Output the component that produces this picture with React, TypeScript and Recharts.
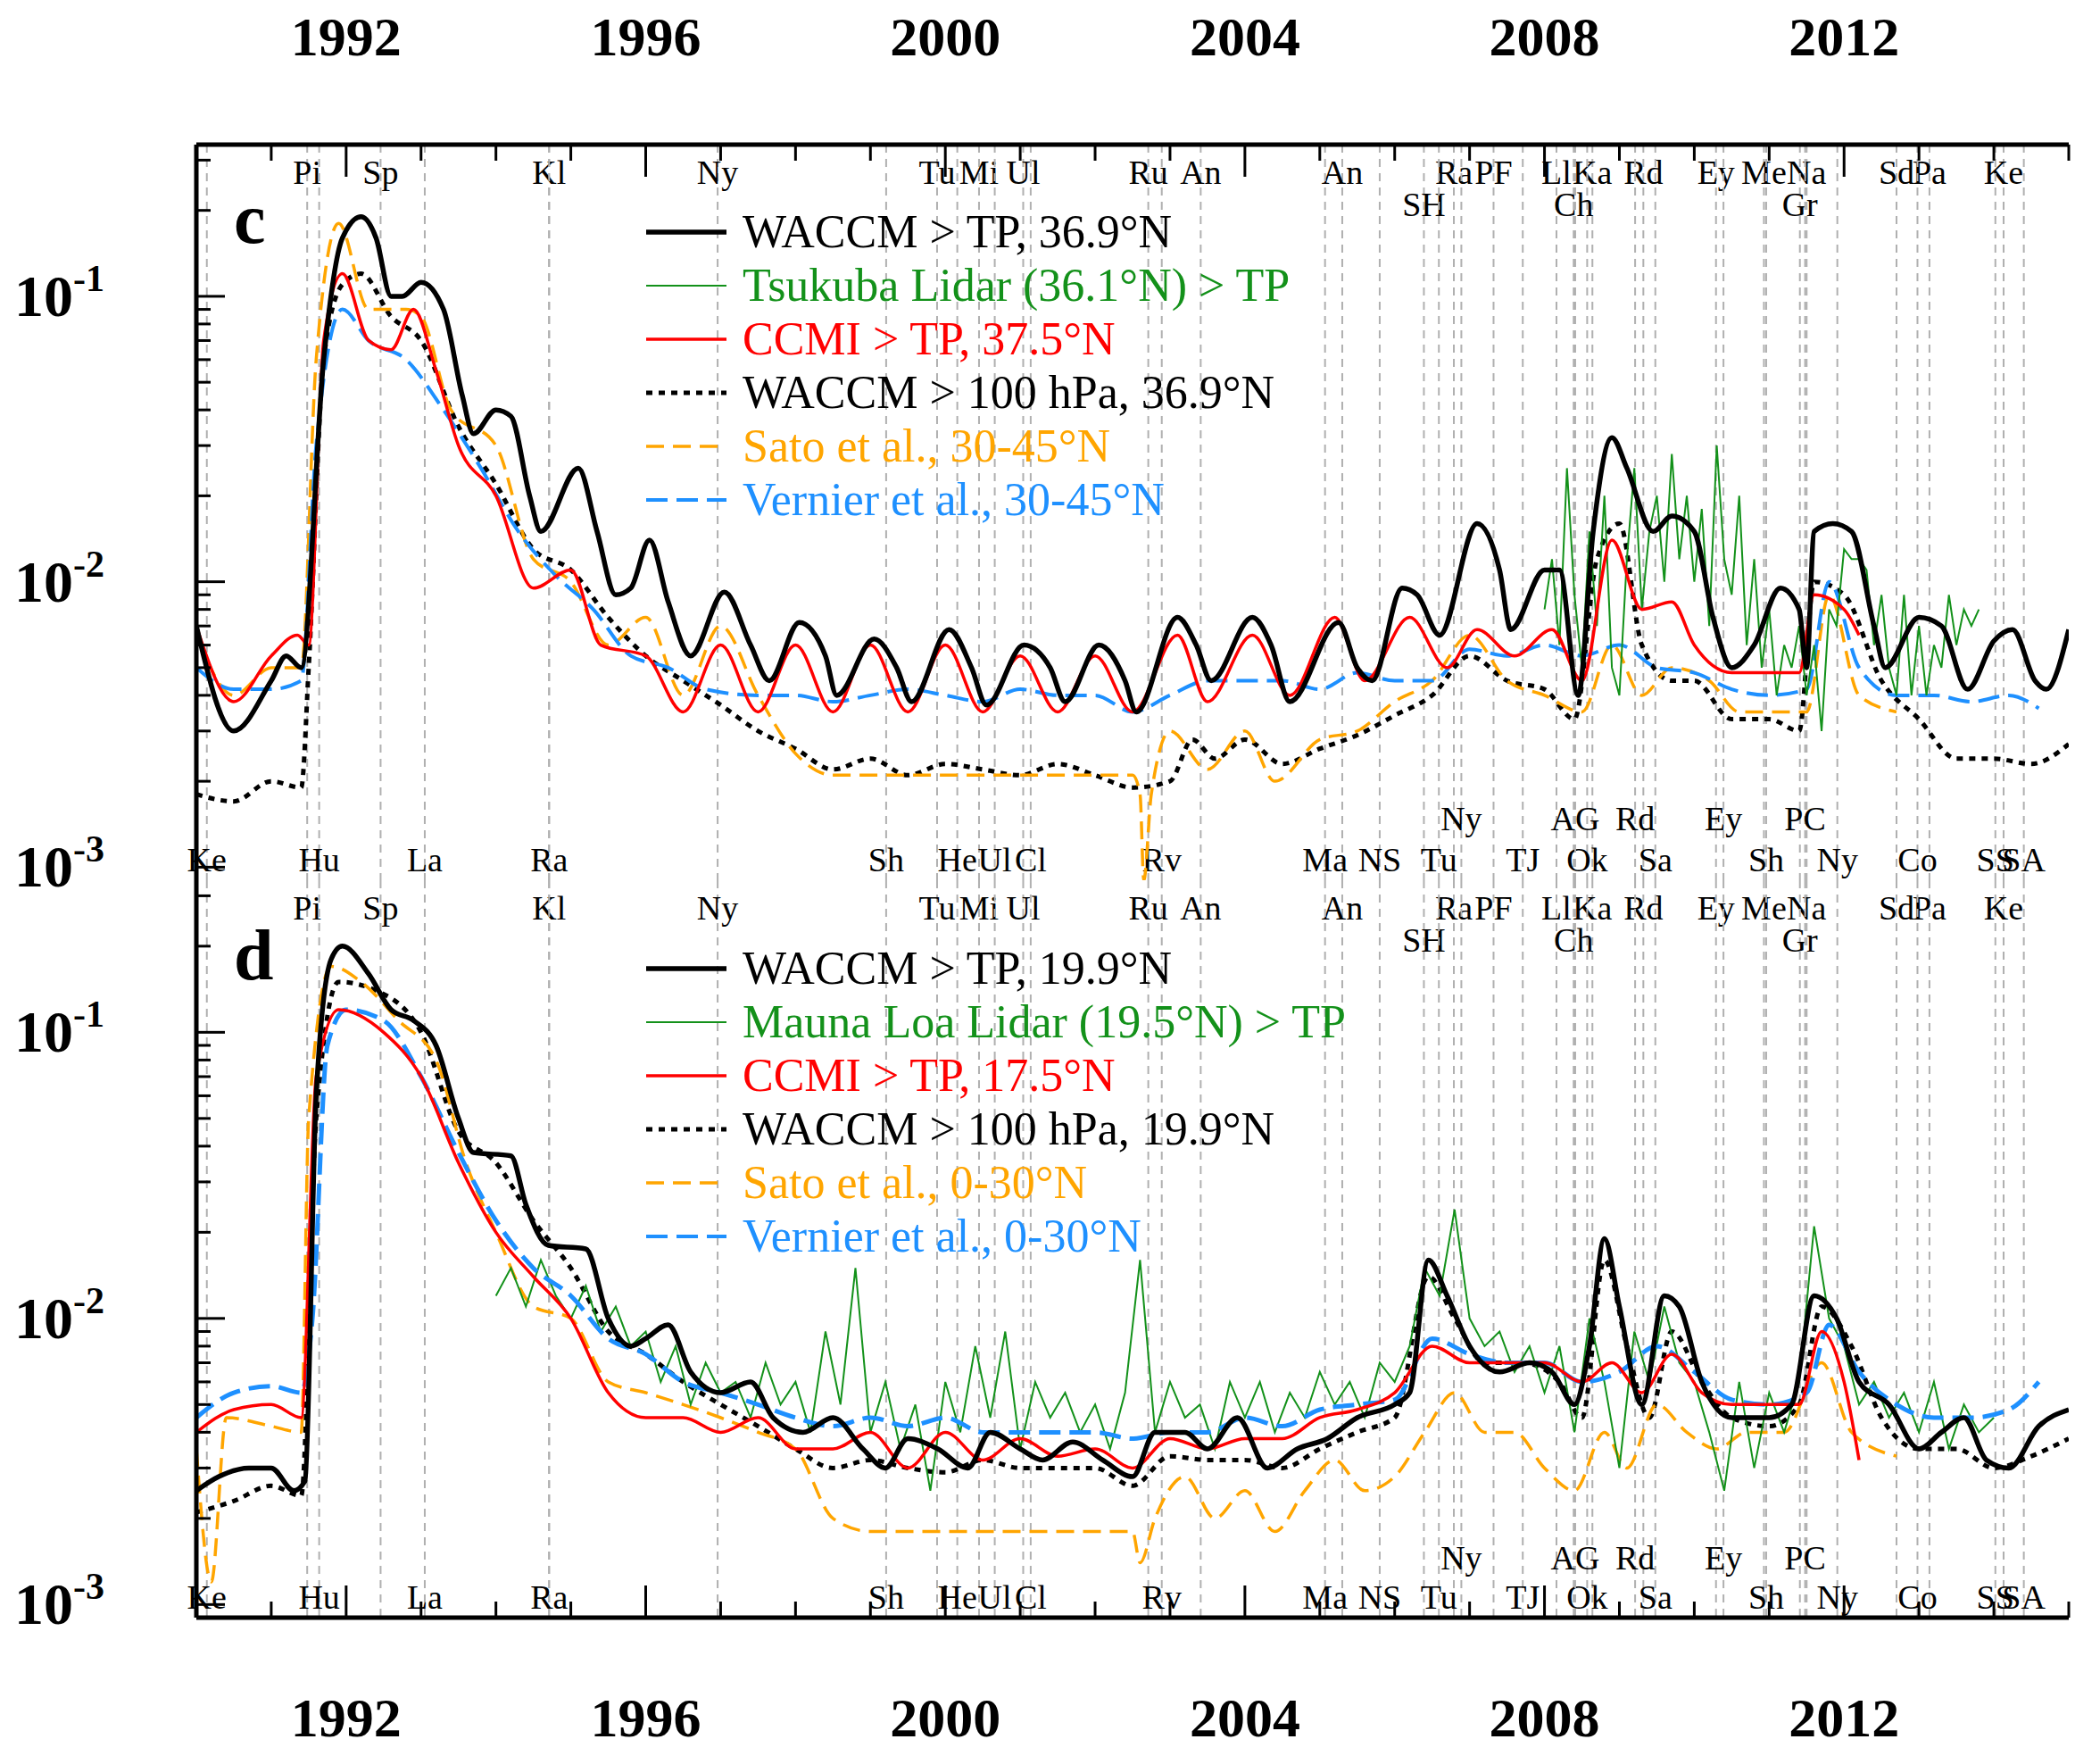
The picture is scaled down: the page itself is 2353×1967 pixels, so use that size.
import React from 'react'
import { LineChart, Line, XAxis, YAxis, ReferenceLine } from 'recharts'

// ---- data: [year, value] ----
const waccmTpC = [[1990,0.007],[1990.5,0.003],[1991,0.0045],[1991.2,0.0055],[1991.4,0.005],[1991.7,0.06],[1991.95,0.16],[1992.2,0.19],[1992.4,0.16],[1992.6,0.1],[1992.75,0.1],[1993,0.112],[1993.3,0.09],[1993.55,0.045],[1993.7,0.033],[1994,0.04],[1994.2,0.038],[1994.45,0.02],[1994.6,0.015],[1995.1,0.025],[1995.35,0.015],[1995.6,0.009],[1995.8,0.0095],[1996.05,0.014],[1996.3,0.0085],[1996.6,0.0055],[1997.05,0.0092],[1997.4,0.006],[1997.65,0.0045],[1998.05,0.0072],[1998.4,0.0055],[1998.55,0.004],[1999.05,0.0063],[1999.35,0.005],[1999.55,0.0038],[2000.05,0.0068],[2000.35,0.005],[2000.55,0.0037],[2001.05,0.006],[2001.4,0.005],[2001.6,0.0038],[2002.05,0.006],[2002.4,0.0045],[2002.55,0.0035],[2003.1,0.0075],[2003.35,0.006],[2003.55,0.0045],[2004.1,0.0075],[2004.35,0.006],[2004.6,0.0038],[2005.25,0.0072],[2005.5,0.005],[2005.7,0.0045],[2006.1,0.0095],[2006.3,0.009],[2006.6,0.0065],[2007.1,0.016],[2007.4,0.011],[2007.55,0.0068],[2008,0.011],[2008.2,0.011],[2008.45,0.004],[2008.65,0.015],[2008.9,0.032],[2009.1,0.025],[2009.45,0.015],[2009.7,0.017],[2010,0.015],[2010.25,0.0075],[2010.5,0.005],[2010.8,0.006],[2011.15,0.0095],[2011.4,0.008],[2011.5,0.005],[2011.6,0.015],[2011.85,0.016],[2012.1,0.015],[2012.4,0.007],[2012.55,0.005],[2013,0.0075],[2013.3,0.007],[2013.65,0.0042],[2014,0.0062],[2014.25,0.0068],[2014.55,0.0045],[2014.7,0.0042],[2015,0.0068]]
const waccm100C = [[1990,0.0018],[1990.5,0.0017],[1991,0.002],[1991.4,0.0019],[1991.5,0.005],[1991.7,0.06],[1991.95,0.11],[1992.2,0.12],[1992.6,0.085],[1993,0.07],[1993.5,0.035],[1994,0.022],[1994.5,0.013],[1995,0.011],[1995.5,0.0075],[1996,0.0055],[1996.5,0.0045],[1997,0.0037],[1997.5,0.003],[1998,0.0026],[1998.5,0.0022],[1999,0.0024],[1999.5,0.0021],[2000,0.0023],[2000.5,0.0022],[2001,0.0021],[2001.5,0.0023],[2002,0.0021],[2002.5,0.0019],[2003,0.002],[2003.3,0.0028],[2003.6,0.0024],[2004,0.0028],[2004.5,0.0023],[2005,0.0026],[2005.5,0.0029],[2006,0.0034],[2006.5,0.004],[2007,0.0055],[2007.5,0.0045],[2008,0.0042],[2008.4,0.0033],[2008.7,0.012],[2009,0.016],[2009.3,0.006],[2009.7,0.0045],[2010,0.0045],[2010.5,0.0033],[2011,0.0033],[2011.4,0.003],[2011.6,0.01],[2012,0.009],[2012.5,0.0045],[2013,0.0033],[2013.5,0.0024],[2014,0.0024],[2014.5,0.0023],[2015,0.0027]]
const ccmiC = [[1990,0.007],[1990.5,0.0038],[1991,0.0055],[1991.35,0.0065],[1991.5,0.006],[1991.7,0.07],[1991.95,0.12],[1992.3,0.07],[1992.6,0.065],[1992.9,0.09],[1993.2,0.055],[1993.5,0.03],[1994,0.02],[1994.5,0.0095],[1995,0.011],[1995.4,0.006],[1996,0.0055],[1996.5,0.0035],[1997,0.006],[1997.5,0.0035],[1998,0.006],[1998.5,0.0035],[1999,0.006],[1999.5,0.0035],[2000,0.006],[2000.5,0.0035],[2001,0.0055],[2001.5,0.0035],[2002,0.0055],[2002.5,0.0035],[2003.1,0.0065],[2003.5,0.0038],[2004.1,0.0065],[2004.6,0.004],[2005.2,0.0075],[2005.6,0.0045],[2006.2,0.0075],[2006.7,0.005],[2007.1,0.0068],[2007.6,0.0055],[2008.1,0.0068],[2008.5,0.0045],[2008.9,0.014],[2009.3,0.008],[2009.7,0.0085],[2010,0.006],[2010.5,0.0048],[2011,0.0048],[2011.4,0.0048],[2011.6,0.009],[2012,0.008],[2012.2,0.0065]]
const satoC = [[1990,0.0065],[1990.5,0.004],[1991,0.005],[1991.4,0.005],[1991.6,0.06],[1991.9,0.18],[1992.3,0.09],[1992.8,0.09],[1993,0.085],[1993.4,0.04],[1994,0.03],[1994.5,0.012],[1995,0.01],[1995.5,0.006],[1996,0.0075],[1996.5,0.004],[1997,0.007],[1997.5,0.004],[1998,0.0025],[1998.5,0.0021],[1999,0.0021],[2000,0.0021],[2001,0.0021],[2002,0.0021],[2002.5,0.0021],[2002.6,0.0018],[2002.65,0.0009],[2002.75,0.0018],[2003,0.003],[2003.5,0.0022],[2004,0.003],[2004.4,0.002],[2005,0.0028],[2005.5,0.003],[2006,0.0038],[2006.5,0.0045],[2007,0.0065],[2007.5,0.0045],[2008,0.004],[2008.5,0.0035],[2008.9,0.006],[2009.3,0.004],[2009.7,0.005],[2010.2,0.0045],[2010.6,0.0035],[2011,0.0035],[2011.5,0.0035],[2011.8,0.009],[2012.2,0.004],[2012.7,0.0035]]
const vernierC = [[1990,0.005],[1990.5,0.0042],[1991,0.0042],[1991.4,0.0045],[1991.6,0.03],[1991.95,0.09],[1992.3,0.07],[1992.8,0.06],[1993.3,0.04],[1993.8,0.025],[1994.3,0.015],[1994.8,0.0105],[1995.3,0.008],[1995.8,0.0055],[1996.3,0.005],[1996.8,0.0042],[1997.5,0.004],[1998,0.004],[1998.5,0.0038],[1999,0.004],[1999.5,0.0042],[2000,0.004],[2000.5,0.0038],[2001,0.0042],[2001.5,0.004],[2002,0.004],[2002.5,0.0035],[2003,0.004],[2003.5,0.0045],[2004,0.0045],[2004.5,0.0045],[2005,0.0042],[2005.5,0.0048],[2006,0.0045],[2006.5,0.0045],[2007,0.0058],[2007.5,0.0055],[2008,0.006],[2008.5,0.0055],[2009,0.006],[2009.5,0.005],[2010,0.0048],[2010.5,0.0042],[2011,0.004],[2011.5,0.0042],[2011.8,0.01],[2012.2,0.005],[2012.7,0.004],[2013.2,0.004],[2013.7,0.0038],[2014.2,0.004],[2014.6,0.0036]]
const tsukubaStart = 2008
const tsukubaValues = [0.008,0.012,0.006,0.025,0.009,0.005,0.015,0.007,0.02,0.005,0.004,0.012,0.025,0.008,0.015,0.02,0.01,0.028,0.012,0.02,0.01,0.018,0.007,0.03,0.012,0.009,0.02,0.006,0.012,0.005,0.008,0.004,0.006,0.005,0.007,0.004,0.006,0.003,0.008,0.007,0.013,0.012,0.012,0.011,0.006,0.009,0.005,0.004,0.009,0.004,0.007,0.004,0.006,0.005,0.009,0.006,0.008,0.007,0.008]

const waccmTpD = [[1990,0.0025],[1990.3,0.0028],[1990.7,0.003],[1991,0.003],[1991.3,0.0025],[1991.45,0.0027],[1991.6,0.06],[1991.8,0.18],[1991.95,0.2],[1992.3,0.16],[1992.6,0.12],[1992.9,0.11],[1993.2,0.09],[1993.5,0.05],[1993.7,0.038],[1994.2,0.037],[1994.4,0.025],[1994.7,0.018],[1995.2,0.0175],[1995.5,0.01],[1995.8,0.008],[1996,0.0085],[1996.3,0.0095],[1996.6,0.0065],[1997,0.0055],[1997.4,0.006],[1997.7,0.0045],[1998.1,0.004],[1998.5,0.0045],[1998.9,0.0035],[1999.2,0.003],[1999.5,0.0038],[1999.9,0.0035],[2000.3,0.003],[2000.6,0.004],[2001,0.0035],[2001.3,0.0032],[2001.7,0.0037],[2002.1,0.0032],[2002.5,0.0028],[2002.8,0.004],[2003.2,0.004],[2003.5,0.0035],[2003.9,0.0045],[2004.3,0.003],[2004.7,0.0035],[2005.1,0.0038],[2005.5,0.0045],[2006,0.005],[2006.2,0.0055],[2006.45,0.016],[2006.7,0.012],[2007,0.008],[2007.4,0.0065],[2007.8,0.007],[2008.1,0.0065],[2008.4,0.005],[2008.6,0.008],[2008.8,0.019],[2009,0.011],[2009.3,0.005],[2009.6,0.012],[2009.8,0.011],[2010.1,0.006],[2010.5,0.0045],[2011,0.0045],[2011.3,0.005],[2011.6,0.012],[2011.9,0.01],[2012.2,0.006],[2012.6,0.005],[2013,0.0035],[2013.3,0.004],[2013.6,0.0045],[2013.9,0.0032],[2014.2,0.003],[2014.6,0.0042],[2015,0.0048]]
const waccm100D = [[1990,0.0021],[1990.5,0.0023],[1991,0.0026],[1991.4,0.0024],[1991.6,0.05],[1991.9,0.15],[1992.4,0.14],[1993,0.1],[1993.5,0.045],[1994,0.035],[1994.5,0.022],[1995,0.015],[1995.5,0.009],[1996,0.0075],[1996.5,0.006],[1997,0.005],[1997.5,0.0042],[1998,0.0035],[1998.5,0.003],[1999,0.0032],[1999.5,0.003],[2000,0.0029],[2000.5,0.0032],[2001,0.003],[2001.5,0.003],[2002,0.003],[2002.5,0.0026],[2003,0.0033],[2003.5,0.0032],[2004,0.0032],[2004.5,0.003],[2005,0.0035],[2005.5,0.004],[2006,0.0045],[2006.45,0.014],[2006.8,0.01],[2007.2,0.007],[2007.7,0.007],[2008.2,0.006],[2008.5,0.0045],[2008.8,0.016],[2009.1,0.008],[2009.4,0.0045],[2009.7,0.009],[2010.1,0.006],[2010.5,0.0045],[2011,0.0042],[2011.4,0.005],[2011.7,0.011],[2012.1,0.008],[2012.5,0.0045],[2013,0.0035],[2013.5,0.0035],[2014,0.003],[2014.5,0.0033],[2015,0.0038]]
const ccmiD = [[1990,0.004],[1990.5,0.0048],[1991,0.005],[1991.4,0.0045],[1991.6,0.07],[1991.9,0.12],[1992.5,0.1],[1993,0.07],[1993.5,0.035],[1994,0.02],[1994.5,0.014],[1995,0.01],[1995.5,0.0055],[1996,0.0045],[1996.5,0.0045],[1997,0.004],[1997.5,0.0045],[1998,0.0035],[1998.5,0.0035],[1999,0.004],[1999.5,0.003],[2000,0.004],[2000.5,0.0032],[2001,0.0038],[2001.5,0.0033],[2002,0.0035],[2002.5,0.003],[2003,0.0038],[2003.5,0.0035],[2004,0.0038],[2004.5,0.0038],[2005,0.0045],[2005.5,0.0048],[2006,0.0055],[2006.5,0.008],[2007,0.007],[2007.5,0.007],[2008,0.007],[2008.5,0.006],[2008.9,0.007],[2009.3,0.0055],[2009.7,0.0075],[2010.1,0.0055],[2010.5,0.005],[2011,0.005],[2011.4,0.005],[2011.7,0.009],[2012,0.006],[2012.2,0.0032]]
const satoD = [[1990,0.0035],[1990.2,0.0012],[1990.4,0.0045],[1991,0.0042],[1991.4,0.004],[1991.5,0.05],[1991.8,0.17],[1992.2,0.15],[1992.7,0.11],[1993.2,0.08],[1993.6,0.035],[1994,0.02],[1994.5,0.011],[1995,0.01],[1995.5,0.006],[1996,0.0055],[1996.5,0.005],[1997,0.0045],[1997.5,0.004],[1998,0.0035],[1998.5,0.002],[1999,0.0018],[2002.5,0.0018],[2002.6,0.0014],[2002.8,0.002],[2003.2,0.0028],[2003.6,0.002],[2004,0.0025],[2004.4,0.0018],[2004.8,0.0025],[2005.2,0.0032],[2005.6,0.0025],[2006,0.0028],[2006.4,0.004],[2006.8,0.0055],[2007.2,0.004],[2007.6,0.004],[2008,0.003],[2008.4,0.0025],[2008.8,0.004],[2009.1,0.003],[2009.5,0.005],[2009.9,0.004],[2010.3,0.0035],[2010.7,0.004],[2011.2,0.004],[2011.7,0.007],[2012.1,0.004],[2012.7,0.0033]]
const vernierD = [[1990,0.0045],[1990.5,0.0055],[1991,0.0058],[1991.4,0.0055],[1991.55,0.01],[1991.75,0.09],[1992,0.12],[1992.5,0.11],[1993,0.07],[1993.5,0.038],[1994,0.022],[1994.5,0.015],[1995,0.012],[1995.5,0.0085],[1996,0.0075],[1996.5,0.006],[1997,0.0055],[1997.5,0.005],[1998,0.0045],[1998.5,0.0042],[1999,0.0045],[1999.5,0.0042],[2000,0.0045],[2000.5,0.004],[2001,0.004],[2001.5,0.004],[2002,0.004],[2002.5,0.0038],[2003,0.004],[2003.5,0.004],[2004,0.0045],[2004.5,0.0042],[2005,0.0048],[2005.5,0.005],[2006,0.0052],[2006.5,0.0085],[2007,0.0075],[2007.5,0.007],[2008,0.007],[2008.5,0.006],[2009,0.0065],[2009.5,0.008],[2010,0.0065],[2010.5,0.0052],[2011,0.005],[2011.5,0.0055],[2011.8,0.0095],[2012.2,0.0065],[2012.7,0.005],[2013.2,0.0045],[2013.7,0.0045],[2014.2,0.0048],[2014.6,0.006]]
const maunaStart = 1994
const maunaValues = [0.012,0.015,0.011,0.016,0.012,0.01,0.013,0.009,0.011,0.008,0.009,0.006,0.008,0.005,0.007,0.0055,0.006,0.0045,0.007,0.005,0.006,0.004,0.009,0.005,0.015,0.004,0.006,0.0035,0.005,0.0025,0.006,0.004,0.008,0.0045,0.009,0.0035,0.006,0.0045,0.0055,0.004,0.005,0.0035,0.0055,0.016,0.004,0.006,0.0045,0.005,0.0035,0.006,0.0045,0.006,0.004,0.0055,0.0045,0.0065,0.005,0.006,0.0045,0.007,0.006,0.008,0.015,0.012,0.024,0.01,0.008,0.009,0.0065,0.008,0.0055,0.008,0.004,0.01,0.006,0.003,0.009,0.006,0.011,0.007,0.006,0.004,0.0025,0.006,0.003,0.0055,0.004,0.006,0.021,0.01,0.008,0.005,0.006,0.0045,0.0055,0.004,0.006,0.0035,0.005,0.004,0.0045]

const yearTicks = [1990,1991,1992,1993,1994,1995,1996,1997,1998,1999,2000,2001,2002,2003,2004,2005,2006,2007,2008,2009,2010,2011,2012,2013,2014,2015]
const yearLabels = [1992,1996,2000,2004,2008,2012]
const yTicks = [0.001,0.002,0.003,0.004,0.005,0.006,0.007,0.008,0.009,0.01,0.02,0.03,0.04,0.05,0.06,0.07,0.08,0.09,0.1,0.2,0.3]
const decadeLabels: Record<string, string> = { '0.001': '-3', '0.01': '-2', '0.1': '-1' }

// events: name, year, row
const events = [
  ['Pi',1991.48,'t1'],['Sp',1992.46,'t1'],['Kl',1994.71,'t1'],['Ny',1996.96,'t1'],['Tu',1999.89,'t1'],['Mi',2000.45,'t1'],['Ul',2001.04,'t1'],['Ru',2002.71,'t1'],['An',2003.41,'t1'],['An',2005.3,'t1'],['Ra',2006.79,'t1'],['PF',2007.32,'t1'],['Ll',2008.16,'t1'],['Ka',2008.64,'t1'],['Rd',2009.32,'t1'],['Ey',2010.29,'t1'],['Me',2010.93,'t1'],['Na',2011.5,'t1'],['Sd',2012.7,'t1'],['Pa',2013.14,'t1'],['Ke',2014.13,'t1'],
  ['SH',2006.39,'t2'],['Ch',2008.39,'t2'],['Gr',2011.41,'t2'],
  ['Ke',1990.14,'b2'],['Hu',1991.64,'b2'],['La',1993.05,'b2'],['Ra',1994.71,'b2'],['Sh',1999.21,'b2'],['He',2000.16,'b2'],['Ul',2000.66,'b2'],['Cl',2001.14,'b2'],['Rv',2002.89,'b2'],['Ma',2005.07,'b2'],['NS',2005.8,'b2'],['Tu',2006.59,'b2'],['TJ',2007.71,'b2'],['Ok',2008.57,'b2'],['Sa',2009.48,'b2'],['Sh',2010.96,'b2'],['Ny',2011.91,'b2'],['Co',2012.98,'b2'],['SS',2014.02,'b2'],['SA',2014.4,'b2'],
  ['Ny',2006.89,'b1'],['AG',2008.41,'b1'],['Rd',2009.21,'b1'],['Ey',2010.39,'b1'],['PC',2011.48,'b1'],
] as [string, number, string][]

const W = 2353
const L = 220
const R = 2318
const FONT = 'Liberation Serif, Times New Roman, serif'

const toPts = (a: number[][]) => a.map(([x, y]) => ({ x, y }))
const toSeq = (start: number, step: number, vals: number[]) => vals.map((y, i) => ({ x: +(start + i * step).toFixed(2), y }))

const XTick = (edgeY: number, dir: number, labelY: number | null) => (props: any) => {
  const { x, payload } = props
  const major = yearLabels.includes(payload.value)
  const len = major ? 36 : 18
  return (
    <g>
      <line x1={x} x2={x} y1={edgeY} y2={edgeY + dir * len} stroke="#000" strokeWidth={3} />
      {labelY !== null && major && (
        <text x={x} y={labelY} textAnchor="middle" fontFamily={FONT} fontWeight="bold" fontSize={62} fill="#000">{payload.value}</text>
      )}
    </g>
  )
}

const YTick = (side: 'l' | 'r') => (props: any) => {
  const { y, payload } = props
  const lab = decadeLabels[String(payload.value)]
  const len = lab ? 32 : 16
  const ex = side === 'l' ? L : R
  const d = side === 'l' ? 1 : -1
  return (
    <g>
      <line x1={ex} x2={ex + d * len} y1={y} y2={y} stroke="#000" strokeWidth={3} />
      {side === 'l' && lab && (
        <text x={16} y={y + 22} textAnchor="start" fontFamily={FONT} fontWeight="bold" fontSize={66} fill="#000">
          10<tspan dy={-28} fontSize={42}>{lab}</tspan>
        </text>
      )}
    </g>
  )
}

const EvLabel = (text: string, row: string, offs: Record<string, number>) => (props: any) => {
  const vb = props.viewBox
  const y = row[0] === 't' ? vb.y + offs[row] : vb.y + vb.height - offs[row]
  return <text x={vb.x} y={y} textAnchor="middle" fontFamily={FONT} fontSize={38} fill="#000">{text}</text>
}

type Ser = { data: { x: number; y: number }[]; color: string; width: number; dash?: string; smooth?: boolean }

const Panel = ({ top, height, margin, topH, botH, topLabel, botLabel, series, offs }: any) => (
  <div style={{ position: 'absolute', left: 0, top, width: W, height }}>
    <LineChart width={W} height={height} margin={margin}>
      <XAxis xAxisId="t" orientation="top" type="number" dataKey="x" domain={[1990, 2015]} ticks={yearTicks} allowDataOverflow height={topH}
        axisLine={{ stroke: '#000', strokeWidth: 5 }} tickLine={false} interval={0} tick={XTick(margin.top + topH, 1, topLabel)} />
      <XAxis xAxisId="b" orientation="bottom" type="number" dataKey="x" domain={[1990, 2015]} ticks={yearTicks} allowDataOverflow height={botH}
        axisLine={{ stroke: '#000', strokeWidth: 5 }} tickLine={false} interval={0} tick={XTick(height - margin.bottom - botH, -1, botLabel)} />
      <YAxis yAxisId="l" scale="log" type="number" domain={[0.0009, 0.34]} allowDataOverflow ticks={yTicks} width={200} interval={0}
        axisLine={{ stroke: '#000', strokeWidth: 5 }} tickLine={false} tick={YTick('l')} />
      <YAxis yAxisId="r" orientation="right" scale="log" type="number" domain={[0.0009, 0.34]} allowDataOverflow ticks={yTicks} width={0} interval={0}
        axisLine={{ stroke: '#000', strokeWidth: 5 }} tickLine={false} tick={YTick('r')} />
      {events.map(([n, yr, row], i) => (
        <ReferenceLine key={'e' + i} x={yr} xAxisId="t" yAxisId="l" stroke="#b0b0b0" strokeWidth={2} strokeDasharray="9 7"
          label={EvLabel(n, row, offs)} />
      ))}
      {series.map((s: Ser, i: number) => (
        <Line key={i} data={s.data} dataKey="y" xAxisId="t" yAxisId="l" type={s.smooth ? 'monotone' : 'linear'} dot={false} stroke={s.color}
          strokeWidth={s.width} strokeDasharray={s.dash} isAnimationActive={false} />
      ))}
    </LineChart>
  </div>
)

const Legend = ({ top, letter, rows }: { top: number; letter: string; rows: [string, string, number, string | undefined][] }) => (
  <>
    <div style={{ position: 'absolute', left: 262, top: top - 60, fontFamily: FONT, fontWeight: 'bold', fontSize: 80 }}>{letter}</div>
    {rows.map(([txt, col, w, dash], i) => (
      <div key={i} style={{ position: 'absolute', left: 722, top: top - 30 + i * 60, height: 60, display: 'flex', alignItems: 'center' }}>
        <svg width={96} height={20}><line x1={2} x2={92} y1={10} y2={10} stroke={col} strokeWidth={w} strokeDasharray={dash} /></svg>
        <span style={{ marginLeft: 14, fontFamily: FONT, fontSize: 52, color: col, lineHeight: '60px' }}>{txt}</span>
      </div>
    ))}
  </>
)

const GREEN = '#13911a'
const RED = '#ff0000'
const ORANGE = '#ffa500'
const BLUE = '#1e90ff'

export default function App() {
  const serC: Ser[] = [
    { data: toPts(waccm100C), color: '#000', width: 5, dash: '7 7', smooth: true },
    { data: toPts(satoC), color: ORANGE, width: 3.5, dash: '20 10', smooth: true },
    { data: toPts(vernierC), color: BLUE, width: 4, dash: '24 10', smooth: true },
    { data: toSeq(tsukubaStart, 0.1, tsukubaValues), color: GREEN, width: 2 },
    { data: toPts(ccmiC), color: RED, width: 3.5, smooth: true },
    { data: toPts(waccmTpC), color: '#000', width: 5.5, smooth: true },
  ]
  const serD: Ser[] = [
    { data: toPts(waccm100D), color: '#000', width: 5, dash: '7 7', smooth: true },
    { data: toPts(satoD), color: ORANGE, width: 3.5, dash: '20 10', smooth: true },
    { data: toSeq(maunaStart, 0.2, maunaValues), color: GREEN, width: 2 },
    { data: toPts(vernierD), color: BLUE, width: 5, dash: '24 10', smooth: true },
    { data: toPts(ccmiD), color: RED, width: 3.5, smooth: true },
    { data: toPts(waccmTpD), color: '#000', width: 5.5, smooth: true },
  ]
  return (
    <div style={{ position: 'absolute', left: 0, top: 0, width: W, height: 1967, background: '#fff' }}>
      <Panel top={0} height={1030} margin={{ top: 100, right: 35, bottom: 44, left: 20 }} topH={62} botH={0} topLabel={62} botLabel={null}
        series={serC} offs={{ t1: 44, t2: 80, b1: 56, b2: 10 }} />
      <Panel top={900} height={1067} margin={{ top: 86, right: 35, bottom: 15, left: 20 }} topH={0} botH={140} topLabel={null} botLabel={1045}
        series={serD} offs={{ t1: 44, t2: 80, b1: 54, b2: 10 }} />
      <Legend top={260} letter="c" rows={[
        ['WACCM > TP, 36.9°N', '#000', 5.5, undefined],
        ['Tsukuba Lidar (36.1°N) > TP', GREEN, 2, undefined],
        ['CCMI > TP, 37.5°N', RED, 3.5, undefined],
        ['WACCM > 100 hPa, 36.9°N', '#000', 5, '7 7'],
        ['Sato et al., 30-45°N', ORANGE, 3.5, '20 10'],
        ['Vernier et al., 30-45°N', BLUE, 4, '24 10'],
      ]} />
      <Legend top={1085} letter="d" rows={[
        ['WACCM > TP, 19.9°N', '#000', 5.5, undefined],
        ['Mauna Loa Lidar (19.5°N) > TP', GREEN, 2, undefined],
        ['CCMI > TP, 17.5°N', RED, 3.5, undefined],
        ['WACCM > 100 hPa, 19.9°N', '#000', 5, '7 7'],
        ['Sato et al., 0-30°N', ORANGE, 3.5, '20 10'],
        ['Vernier et al., 0-30°N', BLUE, 4, '24 10'],
      ]} />
    </div>
  )
}
